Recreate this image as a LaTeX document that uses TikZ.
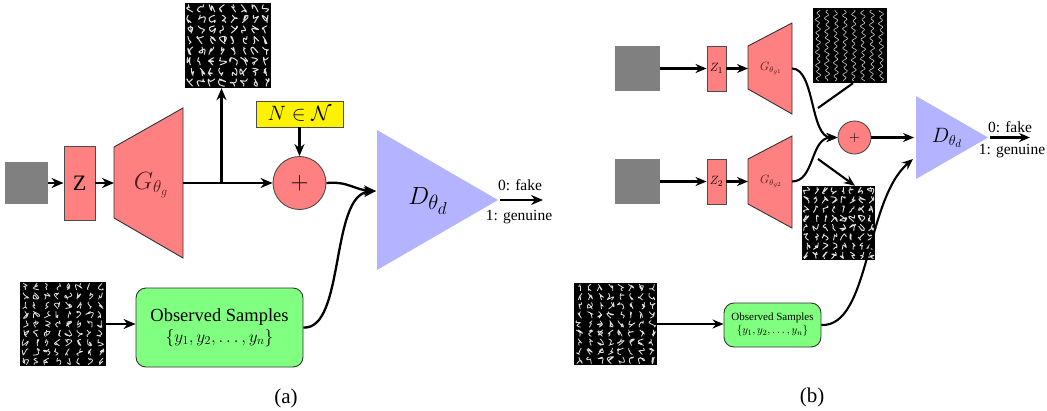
\documentclass[tikz,border=0pt]{standalone}
\usepackage{fontspec}
\setmainfont{Liberation Serif}
\usetikzlibrary{arrows.meta}
\definecolor{pinkf}{RGB}{255,128,128}
\definecolor{lav}{RGB}{179,179,255}
\definecolor{grn}{RGB}{128,255,128}
\definecolor{gtxt}{RGB}{75,30,30}
\definecolor{noisegray}{RGB}{128,128,128}
\newcommand\glyphgrid[8]{%
  \foreach \ci in {1,...,#3}{\foreach \cj in {1,...,#4}{%
    \pgfmathsetmacro\gx{#1+(\ci-0.5)*#5}%
    \pgfmathsetmacro\gy{#2+(\cj-0.5)*#6}%
    \draw[white!88!black, line width=#8, line cap=round, line join=round]
      plot[smooth, tension=0.8] coordinates {({\gx+#7*(rnd-0.5)*0.8},{\gy-#7*0.45}) ({\gx+#7*(rnd-0.5)},{\gy+#7*(rnd-0.5)*0.6}) ({\gx+#7*(rnd-0.5)},{\gy+#7*(rnd-0.5)}) ({\gx+#7*(rnd-0.5)},{\gy+#7*(rnd-0.5)*0.6}) ({\gx+#7*(rnd-0.5)*0.8},{\gy+#7*0.45})};
  }}}
\begin{document}
\begin{tikzpicture}[x=1pt,y=-1pt,
  conn/.style={line width=2.3pt, -{Stealth[length=12pt,width=10pt]}},
  connb/.style={line width=2.1pt, -{Stealth[length=11pt,width=9pt]}},
  pinkbox/.style={draw=black!70, fill=pinkf, line width=0.9pt, inner sep=0pt},
  pinkshape/.style={draw=black!80, fill=pinkf, line width=0.9pt},
  noisesq/.style={fill=noisegray, inner sep=0pt, draw=none},
  imgsq/.style={fill=black, inner sep=0pt, draw=none},
  greenbox/.style={draw=black!80, fill=grn, line width=0.9pt, rounded corners=10pt, inner sep=0pt, align=center},
  gtext/.style={text=gtxt, inner sep=0pt},
  lbl/.style={inner sep=0pt, font=\fontsize{15.5}{16}\selectfont}
]
\useasboundingbox (0,0) rectangle (1047,410);
\pgfmathsetseed{4242}

% ================= (a) =================
\node[noisesq, minimum width=43pt, minimum height=42pt] (na) at (26.5,183) {};
\node[pinkbox, minimum width=31pt, minimum height=74pt, font=\fontsize{22}{22}\selectfont] (za) at (79.5,183) {$\mathrm{Z}$};
\draw[pinkshape] (114,147) -- (183,108) -- (183,258) -- (114,218) -- cycle;
\coordinate (gain) at (114,183);
\coordinate (gaout) at (183,183);
\node[gtext, font=\fontsize{23}{23}\selectfont] (ga) at (151,185) {$G_{\theta_g}$};
\coordinate (ja) at (221.5,183);
\node[imgsq, minimum width=86pt, minimum height=85pt] (imga) at (228,45.5) {};
\glyphgrid{185}{3}{8}{8}{10.75}{10.6}{8}{1pt}
\node[draw=black!70, fill=yellow, line width=0.9pt, minimum width=87pt, minimum height=26pt, inner sep=0pt, font=\fontsize{21}{21}\selectfont] (nn) at (299.5,114) {$N\in\mathcal{N}$};
\node[circle, pinkbox, minimum size=53pt, font=\fontsize{24}{24}\selectfont] (pa) at (299.5,183) {$+$};
\fill[lav] (377,130) -- (498,200) -- (377,270) -- cycle;
\node[inner sep=0pt, font=\fontsize{32}{32}\selectfont] (da) at (428,201) {$D_{\theta_d}$};
\coordinate (dain) at (376,191);
\coordinate (daout) at (500,200);
\coordinate (oa) at (543,200);
\node[lbl] (fa) at (520,185) {0: fake};
\node[lbl] (gena) at (519,217) {1: genuine};
\node[imgsq, minimum width=86pt, minimum height=84pt] (obsa) at (63,324) {};
\glyphgrid{20}{282}{8}{9}{10.75}{9.33}{7}{0.8pt}
\node[greenbox, minimum width=167pt, minimum height=79pt, font=\fontsize{18.5}{22}\selectfont] (sa) at (219.5,327.5) {Observed Samples\\[-1pt]$\{y_1,y_2,\ldots,y_n\}$};
\node[inner sep=0pt, font=\fontsize{21}{21}\selectfont] (capa) at (286,398) {(a)};

\draw[conn] (na) -- (za);
\draw[conn] (za) -- (gain);
\draw[conn] (gaout) -- (pa);
\draw[conn] (ja) -- (ja |- imga.south);
\draw[conn] (nn) -- (pa);
\draw[conn] (pa.east) .. controls (348,181) and (355,190) .. (dain);
\draw[conn] (sa.east) .. controls (345,330) and (330,195) .. (dain);
\draw[conn] (daout) -- (oa);
\draw[conn] (obsa.east) -- (obsa.east -| sa.west);

% ================= (b) =================
\node[noisesq, minimum width=45pt, minimum height=45pt] (nb1) at (637.5,68.5) {};
\node[noisesq, minimum width=45pt, minimum height=45pt] (nb2) at (637.5,181.5) {};
\node[pinkbox, minimum width=19pt, minimum height=45pt, font=\fontsize{13}{13}\selectfont] (zb1) at (716.5,68.5) {$Z_1$};
\node[pinkbox, minimum width=19pt, minimum height=45pt, font=\fontsize{13}{13}\selectfont] (zb2) at (716.5,181.5) {$Z_2$};
\draw[pinkshape] (748,46) -- (792,23) -- (792,114) -- (748,89) -- cycle;
\draw[pinkshape] (748,159) -- (792,136) -- (792,228) -- (748,204) -- cycle;
\coordinate (gb1in) at (748,68.5);
\coordinate (gb1out) at (792,68.5);
\coordinate (gb2in) at (748,181.5);
\coordinate (gb2out) at (792,181.5);
\node[gtext, font=\fontsize{12}{12}\selectfont] (gb1) at (771,68.5) {$G_{\theta_{g1}}$};
\node[gtext, font=\fontsize{12}{12}\selectfont] (gb2) at (771,181.5) {$G_{\theta_{g2}}$};
\node[circle, pinkbox, minimum size=33pt, font=\fontsize{15}{15}\selectfont] (pb) at (854.5,137.5) {$+$};
\fill[lav] (916,96) -- (988,137.5) -- (916,179) -- cycle;
\node[inner sep=0pt, font=\fontsize{21}{21}\selectfont] (db) at (947,138) {$D_{\theta_d}$};
\coordinate (dbin) at (914,137.5);
\coordinate (dbin2) at (913,159);
\coordinate (dbout) at (990,137.5);
\coordinate (ob) at (1030,137.5);
\node[lbl] (fb) at (1010,127) {0: fake};
\node[lbl] (genb) at (1012,151) {1: genuine};
% top-right wavy image
\node[imgsq, minimum width=74pt, minimum height=75pt] (imgb1) at (850,45.5) {};
\foreach \k in {0,...,7}{
  \draw[white!80!black, line width=0.6pt] plot[domain=2:73, samples=70, smooth] ({818+\k*9+1.8*sin(\x*55+\k*70)+0.8*sin(\x*23+\k*40)},{8+\x});
}
% bottom-right MNIST
\node[imgsq, minimum width=73pt, minimum height=74pt] (imgb2) at (838.5,223) {};
\glyphgrid{802}{186}{8}{8}{9.125}{9.25}{7}{0.9pt}
\coordinate (lb1) at (818,108);
\coordinate (lb2) at (818,159);
\node[imgsq, minimum width=83pt, minimum height=82pt] (obsb) at (615.5,324) {};
\glyphgrid{574}{283}{8}{9}{10.4}{9.1}{7}{0.8pt}
\node[greenbox, minimum width=97pt, minimum height=44pt, font=\fontsize{11}{13}\selectfont] (sb) at (772.5,325) {Observed Samples\\$\{y_1,y_2,\ldots,y_n\}$};
\node[inner sep=0pt, font=\fontsize{21}{21}\selectfont] (capb) at (812,397) {(b)};

\draw[connb] (nb1) -- (zb1);
\draw[connb] (zb1) -- (gb1in);
\draw[connb] (nb2) -- (zb2);
\draw[connb] (zb2) -- (gb2in);
\draw[connb] (gb1out) .. controls (815,68.5) and (810,137.5) .. (pb.west);
\draw[connb] (gb2out) .. controls (815,181.5) and (810,137.5) .. (pb.west);
\draw[line width=2.1pt] (lb1) -- ([xshift=3pt]imgb1.south);
\draw[connb] (lb2) -- ([xshift=16.5pt]imgb2.north);
\draw[connb] (pb) -- (dbin);
\draw[connb] (dbout) -- (ob);
\draw[connb] (sb.east) .. controls (870,327) and (865,200) .. (dbin2);
\draw[connb] (obsb.east) -- (obsb.east -| sb.west);
\end{tikzpicture}
\end{document}
